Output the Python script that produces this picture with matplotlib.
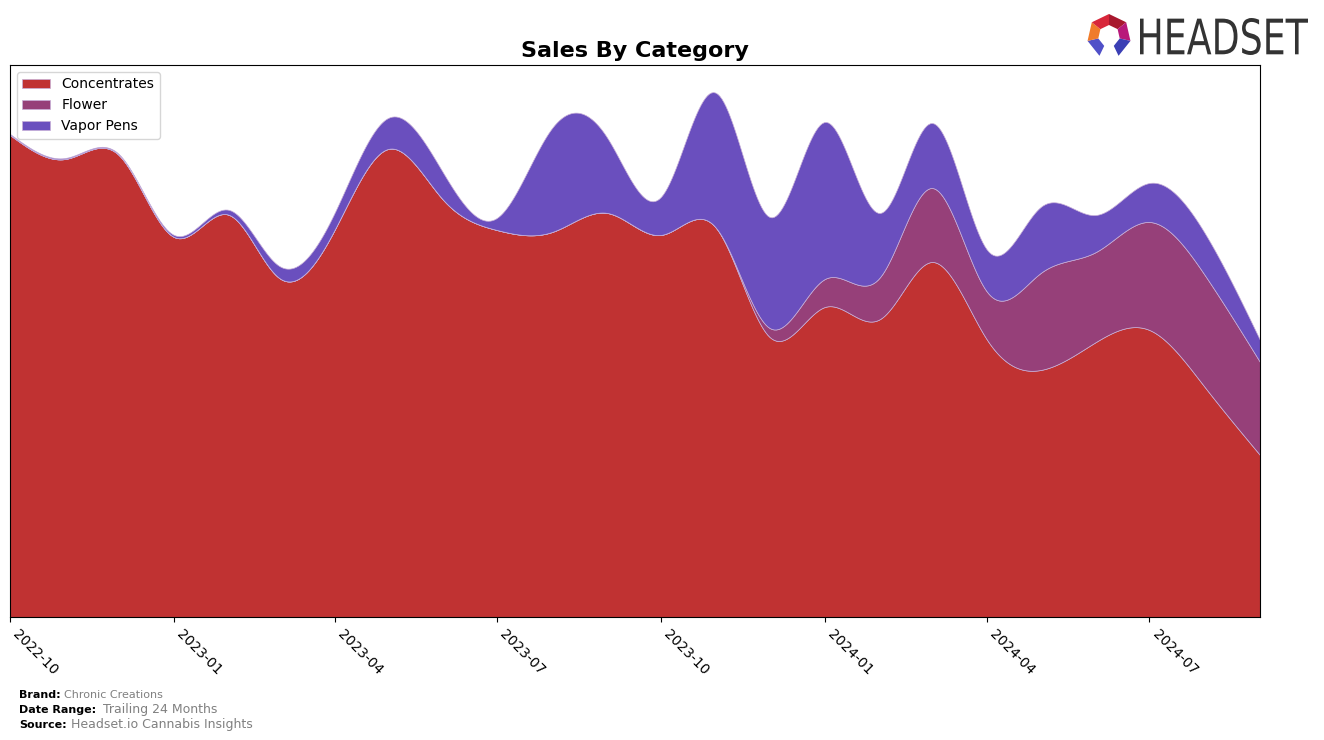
import numpy as np
import pandas as pd
import matplotlib
matplotlib.use("Agg")
import matplotlib.pyplot as plt
import matplotlib.dates as mdates
from matplotlib.patches import Polygon, PathPatch
from matplotlib.textpath import TextPath
from matplotlib.font_manager import FontProperties
from matplotlib.transforms import Affine2D

# monthly sales (relative units)
months = pd.date_range("2022-10-01", "2024-09-01", freq="MS")
concentrates = [482, 458, 462, 380, 402, 339, 387, 468, 417, 387, 385, 404,
                382, 389, 280, 310, 298, 355, 277, 247, 275, 287, 230, 162]
flower = [0, 0, 0, 0, 0, 0, 0, 0, 0, 0, 0, 0,
          0, 0, 9, 28, 42, 74, 48, 97, 90, 108, 112, 93]
vapor_pens = [1, 1, 1, 2, 5, 12, 17, 31, 27, 12, 104, 75,
              38, 135, 111, 157, 64, 65, 42, 66, 37, 39, 42, 22]

labels = ["Concentrates", "Flower", "Vapor Pens"]
colors = ["#c03232", "#964079", "#6a4fbe"]


def natural_spline(x, y, xs):
    x = np.asarray(x, float)
    y = np.asarray(y, float)
    n = len(x)
    h = np.diff(x)
    A = np.zeros((n, n))
    b = np.zeros(n)
    A[0, 0] = A[-1, -1] = 1
    for i in range(1, n - 1):
        A[i, i - 1] = h[i - 1]
        A[i, i] = 2 * (h[i - 1] + h[i])
        A[i, i + 1] = h[i]
        b[i] = 3 * ((y[i + 1] - y[i]) / h[i] - (y[i] - y[i - 1]) / h[i - 1])
    c = np.linalg.solve(A, b)
    idx = np.clip(np.searchsorted(x, xs) - 1, 0, n - 2)
    dx = xs - x[idx]
    bb = (y[idx + 1] - y[idx]) / h[idx] - h[idx] * (2 * c[idx] + c[idx + 1]) / 3
    d = (c[idx + 1] - c[idx]) / (3 * h[idx])
    return y[idx] + bb * dx + c[idx] * dx ** 2 + d * dx ** 3


xnum = mdates.date2num(months)
xs = np.linspace(xnum[0], xnum[-1], 600)
smooth = [np.clip(natural_spline(xnum, s, xs), 0, None)
          for s in (concentrates, flower, vapor_pens)]

W, H = 1324, 740
fig = plt.figure(figsize=(W / 100, H / 100), dpi=100)
ax = fig.add_axes([0.00755, 0.1662, 0.9441, 0.746])

ax.stackplot(xs, *smooth, labels=labels, colors=colors,
             edgecolor="#c8b0d8", linewidth=0.5)

ax.set_xlim(xnum[0], xnum[-1])
ax.set_ylim(0, 552)
ax.set_yticks([])
ax.xaxis.set_major_locator(mdates.MonthLocator(bymonth=[1, 4, 7, 10]))
ax.xaxis.set_major_formatter(mdates.DateFormatter("%Y-%m"))
plt.setp(ax.get_xticklabels(), rotation=-45, ha="left", fontsize=10)
ax.set_title("Sales By Category", fontsize=16, fontweight="bold", pad=6)
ax.legend(loc="upper left", fontsize=10, frameon=True)

# footer
fig.text(0.0145, 0.0568, "Brand:", fontsize=8, fontweight="bold")
fig.text(0.048, 0.0568, "Chronic Creations", fontsize=8, color="gray")
fig.text(0.0145, 0.0365, "Date Range:", fontsize=8, fontweight="bold")
fig.text(0.078, 0.0365, "Trailing 24 Months", fontsize=9, color="gray")
fig.text(0.0145, 0.0162, "Source:", fontsize=8, fontweight="bold")
fig.text(0.054, 0.0162, "Headset.io Cannabis Insights", fontsize=9, color="gray")

# logo: heptagon ring with an open bottom
cx, cy, r_out, r_in = 1109, 36, 22, 11
angles = np.radians(90 - np.arange(8) * 360 / 7)
seg_colors = ["#a8182e", "#b8197a", "#3b3fb5", None, "#5050c8", "#f07b2a",
              "#d8263a"]
for i, col in enumerate(seg_colors):
    if col is None:
        continue
    a0, a1 = angles[i], angles[i + 1]
    pts = [(cx + r_out * np.cos(a0), cy - r_out * np.sin(a0)),
           (cx + r_out * np.cos(a1), cy - r_out * np.sin(a1)),
           (cx + r_in * np.cos(a1), cy - r_in * np.sin(a1)),
           (cx + r_in * np.cos(a0), cy - r_in * np.sin(a0))]
    fig.patches.append(Polygon([(px / W, 1 - py / H) for px, py in pts],
                               closed=True, transform=fig.transFigure,
                               facecolor=col, edgecolor="none"))

tp = TextPath((0, 0), "HEADSET", size=10,
              prop=FontProperties(family="DejaVu Sans"))
ext = tp.get_extents()
sx = 168 / ext.width
sy = 37 / ext.height
trans = (Affine2D().translate(-ext.x0, -ext.y0).scale(sx, sy)
         .translate(1140, H - 55).scale(1 / W, 1 / H) + fig.transFigure)
fig.patches.append(PathPatch(tp, transform=trans, facecolor="#333333",
                             edgecolor="none"))

fig.savefig("out.png", dpi=100)
